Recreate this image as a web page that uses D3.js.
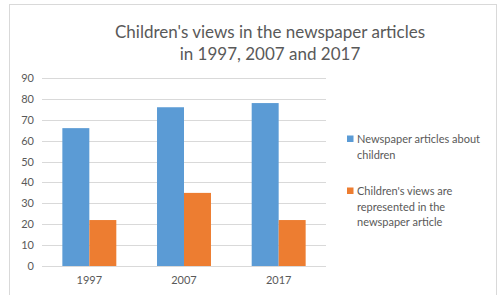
<!DOCTYPE html>
<html><head><meta charset="utf-8">
<script src="https://cdn.jsdelivr.net/npm/d3@7"></script>
<style>body{margin:0;background:#fff}svg{display:block}</style>
</head><body>
<svg id="c" width="497" height="295"></svg>
<script>
const categories = ["1997", "2007", "2017"];
const seriesNames = ["Newspaper articles about children", "Children's views are represented in the newspaper article"];
const articles = [66, 76, 78];
const views = [22, 35, 22];
const yTicks = [0, 10, 20, 30, 40, 50, 60, 70, 80, 90];
const titleLines = ["Children's views in the newspaper articles", "in 1997, 2007 and 2017"];
const legendLines = [["Newspaper articles about", "children"], ["Children's views are", "represented in the", "newspaper article"]];
const colors = ["#5b9bd5", "#ed7d31"];

const font = "Lato, 'Open Sans', sans-serif";
const svg = d3.select("#c");
// chart border
svg.append("rect").attr("x", 9.5).attr("y", 4.5).attr("width", 487).attr("height", 300)
  .attr("fill", "#fff").attr("stroke", "#d9d9d9");

const x0 = d3.scaleBand().domain(categories).range([42, 326]).paddingInner(0).paddingOuter(0);
const y = d3.scaleLinear().domain([0, 90]).range([266, 78]);
const bw = x0.bandwidth() * 0.285;

// gridlines
svg.append("g").selectAll("line").data(yTicks).join("line")
  .attr("x1", 42).attr("x2", 326).attr("y1", d => Math.round(y(d)) + 0.5).attr("y2", d => Math.round(y(d)) + 0.5)
  .attr("stroke", "#d9d9d9").attr("stroke-width", 1);

// y axis labels
const yAxis = d3.axisLeft(y).tickValues(yTicks).tickSize(0).tickPadding(8);
const gy = svg.append("g").attr("transform", "translate(40,0)").call(yAxis);
gy.select(".domain").remove();
gy.selectAll("text").attr("fill", "#595959").style("font-family", font).style("font-size", "11px").attr("x", -6);

// x axis labels
const xAxis = d3.axisBottom(x0).tickSize(0).tickPadding(10);
const gx = svg.append("g").attr("transform", "translate(0,266)").call(xAxis);
gx.select(".domain").remove();
gx.selectAll("text").attr("fill", "#595959").style("font-family", font).style("font-size", "11px");

const series = [articles, views];
series.forEach((vals, si) => {
  svg.append("g").selectAll("rect").data(vals).join("rect")
    .attr("x", (d, i) => x0(categories[i]) + x0.bandwidth() / 2 - bw + si * bw)
    .attr("y", d => y(d)).attr("width", bw).attr("height", d => y(0) - y(d))
    .attr("fill", colors[si]);
});

// title
const t = svg.append("text").attr("text-anchor", "middle").attr("fill", "#595959")
  .style("font-family", font).style("font-size", "17px");
titleLines.forEach((l, i) => t.append("tspan").attr("x", 270).attr("y", 38 + i * 21.5).text(l));

// legend
const legY = [139, 191];
legendLines.forEach((lines, si) => {
  svg.append("rect").attr("x", 347).attr("y", legY[si] - 3.5).attr("width", 6.5).attr("height", 6.5).attr("fill", colors[si]);
  const lt = svg.append("text").attr("fill", "#595959").style("font-family", font).style("font-size", "11px");
  lines.forEach((l, i) => lt.append("tspan").attr("x", 357).attr("y", legY[si] + 4 + i * 15.5).text(l));
});
</script>
</body></html>
